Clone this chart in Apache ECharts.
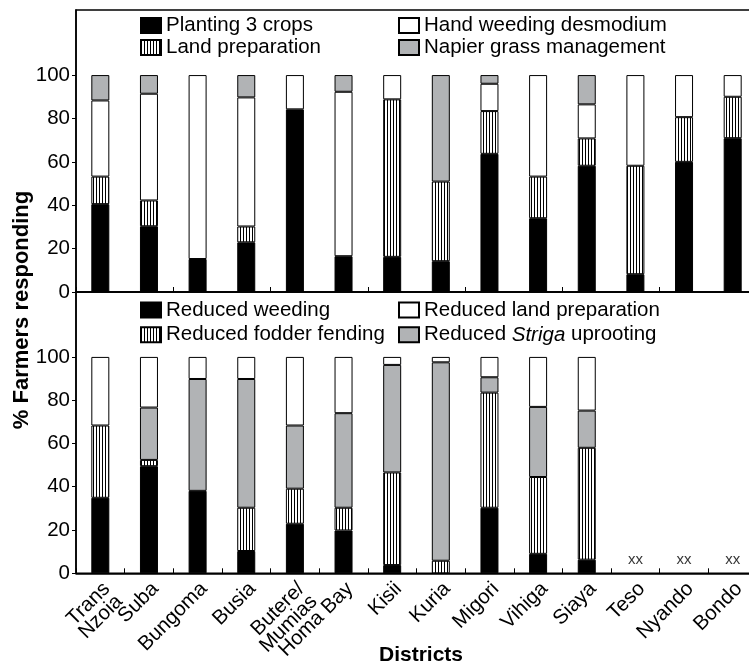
<!DOCTYPE html>
<html>
<head>
<meta charset="utf-8">
<script src="https://cdn.jsdelivr.net/npm/echarts@6/dist/echarts.min.js"></script>
<style>
html,body{margin:0;padding:0;background:#fff;}
#chart{width:749px;height:666px;}
</style>
</head>
<body>
<div id="chart"></div>
<script>
// ---- Data ----
const districts = ['Trans\nNzoia', 'Suba', 'Bungoma', 'Busia', 'Butere/\nMumias', 'Homa Bay', 'Kisii', 'Kuria', 'Migori', 'Vihiga', 'Siaya', 'Teso', 'Nyando', 'Bondo'];

// Top panel (% farmers)
const planting3Crops   = [40.5, 30.3, 15.2, 22.9, 84.2, 16.5, 16.2, 14.2, 63.7, 34.0, 58.2, 8.2, 60.0, 70.9];
const landPreparation  = [12.7, 11.9, 0, 7.3, 0, 0, 72.6, 36.7, 19.7, 19.2, 12.6, 50.0, 20.6, 19.1];
const handWeedingDesmo = [35.1, 49.2, 84.8, 59.5, 15.8, 75.8, 11.2, 0, 12.6, 46.8, 15.7, 41.8, 19.4, 10.0];
const napierManagement = [11.7, 8.6, 0, 10.3, 0, 7.7, 0, 49.1, 4.0, 0, 13.5, 0, 0, 0];

// Bottom panel (% farmers)
const reducedWeeding   = [34.9, 49.5, 38.1, 10.3, 22.9, 19.8, 3.8, 0, 30.3, 9.0, 6.3, null, null, null];
const reducedFodder    = [33.4, 2.9, 0, 20.0, 16.2, 10.5, 42.8, 5.8, 53.2, 35.5, 51.7, null, null, null];
const reducedStriga    = [0, 24.2, 51.7, 59.5, 29.2, 43.7, 49.7, 91.7, 7.1, 32.4, 17.2, null, null, null];
const reducedLandPrep  = [31.7, 23.4, 10.2, 10.2, 31.7, 26.0, 3.7, 2.5, 9.4, 23.1, 24.8, null, null, null];
const noDataDistricts  = ['Teso', 'Nyando', 'Bondo'];

const yTickValues = [0, 20, 40, 60, 80, 100];

// ---- Styles ----
const FONT = 'Liberation Sans, Arial, Helvetica, sans-serif';
const FS = 20.5;
const GRAY = '#b1b3b5';

const pc = document.createElement('canvas');
pc.width = 3; pc.height = 3;
const pctx = pc.getContext('2d');
pctx.fillStyle = '#fff'; pctx.fillRect(0, 0, 3, 3);
pctx.fillStyle = '#000'; pctx.fillRect(0, 0, 1, 3);
const STRIPES = { image: pc, repeat: 'repeat' };

const clean = arr => arr.map(v => (v === 0 ? '-' : v));

function barSeries(name, data, color, idx, stack) {
  return {
    name: name, type: 'bar', stack: stack,
    xAxisIndex: idx, yAxisIndex: idx,
    data: clean(data), barWidth: 18,
    itemStyle: { color: color, borderColor: '#000', borderWidth: 1 },
    emphasis: { disabled: true },
    animation: false
  };
}

const grids = [
  { left: 76, width: 681, top: 10, height: 282, show: true, borderColor: '#000', borderWidth: 1.5, containLabel: false, outerBoundsMode: 'none' },
  { left: 76, width: 681, top: 292, height: 281.3, show: true, borderColor: '#000', borderWidth: 1.5, containLabel: false, outerBoundsMode: 'none' }
];

function xAx(i, showLabel) {
  return {
    type: 'category', gridIndex: i, data: districts,
    axisLine: { lineStyle: { color: '#000', width: 1.5 } },
    axisTick: { show: true, inside: true, length: 5, lineStyle: { color: '#000', width: 1 } },
    axisLabel: showLabel ? {
      show: true, rotate: 45, margin: 6, color: '#000', verticalAlign: 'top',
      showMinLabel: true, showMaxLabel: true, interval: 0, hideOverlap: false,
      fontFamily: FONT, fontSize: FS, lineHeight: 18
    } : { show: false },
    splitLine: { show: false }
  };
}
function yAx(i) {
  return {
    type: 'value', gridIndex: i, min: 0, max: 130, interval: 10,
    axisLine: { show: true, lineStyle: { color: '#000', width: 1.5 } },
    axisTick: { show: true, length: 4, customValues: yTickValues, lineStyle: { color: '#000', width: 1 } },
    axisLabel: { show: true, customValues: yTickValues, showMinLabel: true, margin: 6, color: '#000', fontFamily: FONT, fontSize: FS },
    splitLine: { show: false }
  };
}

const legendBase = {
  orient: 'vertical', icon: 'rect', itemWidth: 20, itemHeight: 15,
  textStyle: { fontFamily: FONT, fontSize: FS, color: '#000',
    rich: {
      n: { fontFamily: FONT, fontSize: FS, color: '#000' },
      i: { fontFamily: FONT, fontSize: FS, color: '#000', fontStyle: 'italic' }
    }
  },
  selectedMode: false, padding: 0
};

const option = {
  backgroundColor: '#fff',
  animation: false,
  grid: grids,
  xAxis: [xAx(0, false), xAx(1, true)],
  yAxis: [yAx(0), yAx(1)],
  legend: [
    Object.assign({}, legendBase, { left: 140, top: 15, itemGap: 1, data: ['Planting 3 crops', 'Land preparation'] }),
    Object.assign({}, legendBase, { left: 398, top: 15, itemGap: 1, data: ['Hand weeding desmodium', 'Napier grass management'] }),
    Object.assign({}, legendBase, { left: 140, top: 299.5, itemGap: 3.8, data: ['Reduced weeding', 'Reduced fodder fending'] }),
    Object.assign({}, legendBase, { left: 398, top: 299.5, itemGap: 3.8, data: ['Reduced land preparation', 'Reduced Striga uprooting'],
      formatter: function (n) {
        if (n === 'Reduced Striga uprooting') return '{n|Reduced }{i|Striga}{n| uprooting}';
        return '{n|' + n + '}';
      } })
  ],
  series: [
    barSeries('Planting 3 crops', planting3Crops, '#000', 0, 'top'),
    barSeries('Land preparation', landPreparation, STRIPES, 0, 'top'),
    barSeries('Hand weeding desmodium', handWeedingDesmo, '#fff', 0, 'top'),
    barSeries('Napier grass management', napierManagement, GRAY, 0, 'top'),
    barSeries('Reduced weeding', reducedWeeding, '#000', 1, 'bot'),
    barSeries('Reduced fodder fending', reducedFodder, STRIPES, 1, 'bot'),
    barSeries('Reduced Striga uprooting', reducedStriga, GRAY, 1, 'bot'),
    barSeries('Reduced land preparation', reducedLandPrep, '#fff', 1, 'bot'),
    {
      name: 'noData', type: 'scatter', xAxisIndex: 1, yAxisIndex: 1,
      symbolSize: 0, silent: true,
      data: noDataDistricts.map(d => [districts.indexOf(d), 6]),
      label: { show: true, position: 'inside', formatter: 'xx', fontFamily: FONT, fontSize: 15, color: '#000' }
    }
  ],
  graphic: [
    { type: 'text', x: 421, y: 655, style: { text: 'Districts', fontFamily: FONT, fontSize: 21, fontWeight: 'bold', fill: '#000', align: 'center', verticalAlign: 'middle' } },
    { type: 'text', rotation: Math.PI / 2, x: 22, y: 310, style: { text: '% Farmers responding', fontFamily: FONT, fontSize: 22, fontWeight: 'bold', fill: '#000', align: 'center', verticalAlign: 'middle' } }
  ]
};

const chart = echarts.init(document.getElementById('chart'), null, { renderer: 'canvas' });
chart.setOption(option);
</script>
</body>
</html>
